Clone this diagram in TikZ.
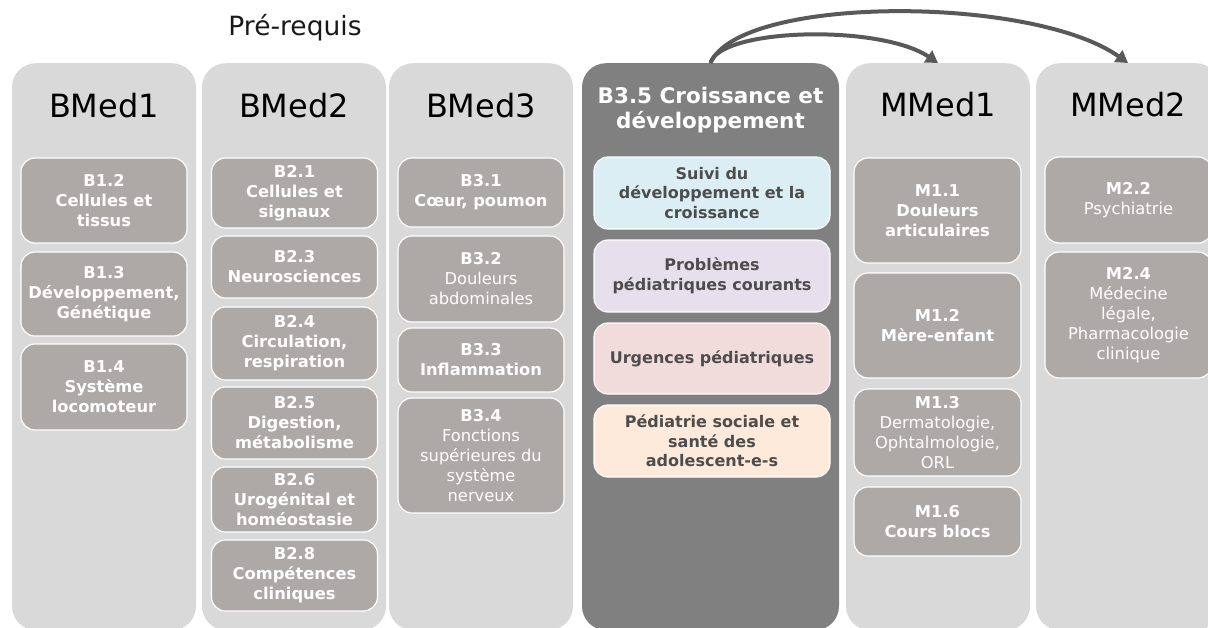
\documentclass[tikz,border=0pt]{standalone}
\usepackage{fontspec}
\setmainfont{DejaVu Sans}
\usetikzlibrary{arrows.meta}
\definecolor{colgray}{HTML}{D9D9D9}
\definecolor{cardgray}{HTML}{ADA9A7}
\definecolor{darkcol}{HTML}{808080}
\definecolor{arrowgray}{HTML}{595959}
\definecolor{cblue}{HTML}{DAEEF3}
\definecolor{clav}{HTML}{E5E0EC}
\definecolor{cpink}{HTML}{F2DCDB}
\definecolor{cpeach}{HTML}{FDEADA}
\definecolor{ctext}{HTML}{4D4D4D}
\begin{document}
\begin{tikzpicture}[x=1pt,y=-1pt,
  col/.style={fill=colgray, rounded corners=24pt, minimum width=184pt, minimum height=567pt, inner sep=0pt, anchor=north},
  coltitle/.style={font=\fontsize{32}{38}\selectfont, anchor=base, inner sep=0pt},
  card/.style={fill=cardgray, draw=white, line width=1.2pt, rounded corners=14pt, text=white, align=center, inner sep=0pt, font=\fontsize{16.3}{20}\selectfont},
  cardb/.style={card, font=\fontsize{16.3}{20}\selectfont\bfseries},
  wh/.style 2 args={minimum width=#1pt, minimum height=#2pt},
  ccard/.style={card, text=ctext, font=\fontsize{16}{19.5}\selectfont\bfseries, minimum width=236pt, minimum height=72pt},
  arr/.style={draw=arrowgray, line width=4pt, -{Triangle[length=12pt,width=14pt]}}
]
\useasboundingbox (0,0) rectangle (1208,627);
\clip (0,0) rectangle (1208,627);

% heading
\node[font=\fontsize{26.5}{30}\selectfont, anchor=base, inner sep=0pt, text=black!90] (pre) at (295,35) {Pré-requis};

% columns
\node[col] (b1) at (104,63) {};
\node[col] (b2) at (294,63) {};
\node[col] (b3) at (481,63) {};
\node[col, fill=darkcol, minimum width=257pt] (b35) at (710.5,63) {};
\node[col] (m1) at (938,63) {};
\node[col] (m2) at (1128,63) {};

% column titles
\node[coltitle] (t1) at (104,117) {BMed1};
\node[coltitle] (t2) at (294,117) {BMed2};
\node[coltitle] (t3) at (481,117) {BMed3};
\node[coltitle] (t5) at (938,116) {MMed1};
\node[coltitle] (t6) at (1128,116) {MMed2};
\node[text=white, inner sep=0pt, anchor=base, font=\fontsize{21.5}{25}\selectfont\bfseries] (t4a) at (710.5,103) {B3.5 Croissance et};
\node[text=white, inner sep=0pt, anchor=base, font=\fontsize{21.5}{25}\selectfont\bfseries] (t4b) at (710.5,128) {développement};

% BMed1 cards
\node[cardb, wh={166}{85}] (c12) at (104,200.5) {B1.2\\Cellules et\\tissus};
\node[cardb, wh={166}{84}] (c13) at (104,294) {B1.3\\Développement,\\Génétique};
\node[cardb, wh={166}{86}] (c14) at (104,387) {B1.4\\Système\\locomoteur};

% BMed2 cards
\node[cardb, wh={166}{70}] (c21) at (294.5,193) {B2.1\\Cellules et\\signaux};
\node[cardb, wh={166}{62}] (c23) at (294.5,267) {B2.3\\Neurosciences};
\node[cardb, wh={166}{73}] (c24) at (294.5,343.5) {B2.4\\Circulation,\\respiration};
\node[cardb, wh={166}{72}] (c25) at (294.5,423) {B2.5\\Digestion,\\métabolisme};
\node[cardb, wh={166}{65}] (c26) at (294.5,499.5) {B2.6\\Urogénital et\\homéostasie};
\node[cardb, wh={166}{71}] (c28) at (294.5,575.5) {B2.8\\Compétences\\cliniques};

% BMed3 cards
\node[cardb, wh={166}{69}] (c31) at (481,192.5) {B3.1\\Cœur, poumon};
\node[card, wh={166}{86}] (c32) at (481,279) {\textbf{B3.2}\\Douleurs\\abdominales};
\node[cardb, wh={166}{64}] (c33) at (481,360) {B3.3\\Inflammation};
\node[card, wh={166}{115}] (c34) at (481,455.5) {\textbf{B3.4}\\Fonctions\\supérieures du\\système\\nerveux};

% B3.5 cards
\node[ccard, fill=cblue] (s1) at (712,193) {Suivi du\\développement et la\\croissance};
\node[ccard, fill=clav] (s2) at (712,276) {Problèmes\\pédiatriques courants};
\node[ccard, fill=cpink, minimum height=71pt] (s3) at (712,358.5) {Urgences pédiatriques};
\node[ccard, fill=cpeach] (s4) at (712,441) {Pédiatrie sociale et\\santé des\\adolescent-e-s};

% MMed1 cards
\node[cardb, wh={167}{105}] (m11) at (937.5,210.5) {M1.1\\Douleurs\\articulaires};
\node[cardb, wh={167}{105}] (m12) at (937.5,325.5) {M1.2\\Mère-enfant};
\node[card, wh={167}{87}] (m13) at (937.5,432.5) {\textbf{M1.3}\\Dermatologie,\\Ophtalmologie,\\ORL};
\node[cardb, wh={167}{69}] (m16) at (937.5,521.5) {M1.6\\Cours blocs};

% MMed2 cards
\node[card, wh={167}{86}] (m22) at (1128.5,200) {\textbf{M2.2}\\Psychiatrie};
\node[card, wh={167}{126}] (m24) at (1128.5,315) {\textbf{M2.4}\\Médecine\\légale,\\Pharmacologie\\clinique};

% arrows
\draw[arr] (b35.north) .. controls (720,28) and (880,24) .. (m1.north);
\draw[arr] (b35.north) .. controls (740,-5) and (1032,-5) .. (m2.north);
\end{tikzpicture}
\end{document}
